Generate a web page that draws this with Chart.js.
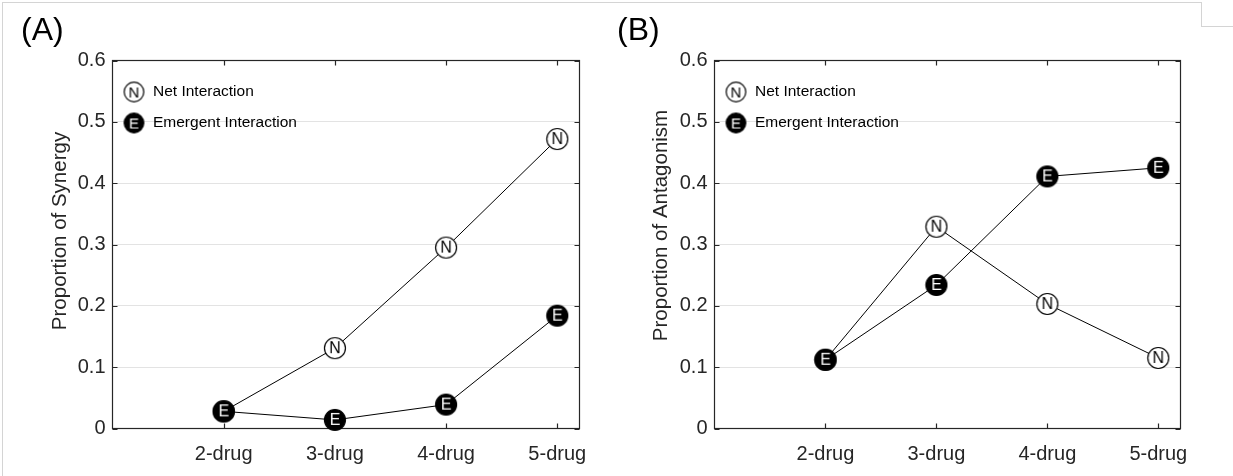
<!DOCTYPE html>
<html>
<head>
<meta charset="utf-8">
<script src="https://cdn.jsdelivr.net/npm/chart.js@4.4.1/dist/chart.umd.min.js"></script>
<style>
  html, body { margin: 0; padding: 0; background: #fff; }
  #wrap { position: relative; width: 1233px; height: 476px; overflow: hidden; }
  canvas { position: absolute; top: 0; }
  #cA { left: 0; }
  #cB { left: 600px; }
  .edge { position: absolute; background: #d4d4d4; }
</style>
</head>
<body>
<div id="wrap">
  <div class="edge" style="left:2px;top:2px;width:1200px;height:1px"></div>
  <div class="edge" style="left:2px;top:2px;width:1px;height:474px"></div>
  <div class="edge" style="left:1201px;top:2px;width:1px;height:25px"></div>
  <div class="edge" style="left:1201px;top:26px;width:32px;height:1px"></div>
  <canvas id="cA" width="600" height="476"></canvas>
  <canvas id="cB" width="633" height="476"></canvas>
</div>
<script>
// values
const drugCounts = ['2-drug', '3-drug', '4-drug', '5-drug'];
const drugPos = [2, 3, 4, 5];
const yTicks = [0, 0.1, 0.2, 0.3, 0.4, 0.5, 0.6];
const yTickLabels = ['0', '0.1', '0.2', '0.3', '0.4', '0.5', '0.6'];

const synergyNet = [0.028, 0.131, 0.295, 0.472];
const synergyEmergent = [0.028, 0.014, 0.039, 0.184];
const antagNet = [0.112, 0.329, 0.203, 0.115];
const antagEmergent = [0.112, 0.234, 0.411, 0.425];

const FONT = '"Liberation Sans", Arial, Helvetica, sans-serif';
const AXIS = '#262626';

// circle with a letter, used as point style
function marker(letter, filled, r, size) {
  const c = document.createElement('canvas');
  const s = Math.ceil(r * 2 + 3);
  c.width = c.height = s;
  const g = c.getContext('2d');
  g.beginPath();
  g.arc(s / 2, s / 2, r, 0, Math.PI * 2);
  g.fillStyle = filled ? '#000' : '#fff';
  g.fill();
  g.lineWidth = 1.2;
  g.strokeStyle = '#000';
  g.stroke();
  g.fillStyle = filled ? '#fff' : '#000';
  g.font = size + 'px ' + FONT;
  g.textAlign = 'center';
  g.textBaseline = 'middle';
  g.fillText(letter, s / 2, s / 2 + 1);
  return c;
}
const mN = marker('N', false, 10.5, 16);
const mE = marker('E', true, 10.5, 16);
const lN = marker('N', false, 9.8, 15);
const lE = marker('E', true, 9.8, 15);

// box with inward ticks, panel letter, y title and legend
const frame = {
  id: 'frame',
  beforeDatasetsDraw(chart, args, o) {
    const { ctx, chartArea: a, scales: { x, y } } = chart;
    ctx.save();
    ctx.strokeStyle = AXIS;
    ctx.lineWidth = 1.2;
    ctx.strokeRect(a.left, a.top, a.right - a.left, a.bottom - a.top);
    ctx.beginPath();
    x.ticks.forEach(t => {
      const px = Math.round(x.getPixelForValue(t.value)) + 0.5;
      ctx.moveTo(px, a.bottom); ctx.lineTo(px, a.bottom - 5);
      ctx.moveTo(px, a.top); ctx.lineTo(px, a.top + 5);
    });
    y.ticks.forEach(t => {
      const py = Math.round(y.getPixelForValue(t.value)) + 0.5;
      ctx.moveTo(a.left, py); ctx.lineTo(a.left + 5, py);
      ctx.moveTo(a.right, py); ctx.lineTo(a.right - 5, py);
    });
    ctx.stroke();
    ctx.restore();
  },
  afterDraw(chart, args, o) {
    const { ctx, chartArea: a } = chart;
    ctx.save();
    ctx.fillStyle = '#000';
    ctx.font = '32px ' + FONT;
    ctx.textBaseline = 'alphabetic';
    ctx.fillText(o.letter, o.letterX, 40);

    ctx.save();
    ctx.translate(o.titleX, o.titleY);
    ctx.rotate(-Math.PI / 2);
    ctx.fillStyle = AXIS;
    ctx.font = '20.5px ' + FONT;
    ctx.textAlign = 'center';
    ctx.fillText(o.title, 0, 0);
    ctx.restore();

    const lx = a.left + 21.5;
    ctx.drawImage(lN, lx - lN.width / 2, 92 - lN.height / 2);
    ctx.drawImage(lE, lx - lE.width / 2, 123 - lE.height / 2);
    ctx.fillStyle = '#000';
    ctx.font = '15.5px ' + FONT;
    ctx.textBaseline = 'middle';
    ctx.fillText('Net Interaction', a.left + 40.5, 92);
    ctx.fillText('Emergent Interaction', a.left + 40.5, 123);
    ctx.restore();
  }
};

function series(label, vals, style) {
  return {
    label,
    data: vals.map((v, i) => ({ x: drugPos[i], y: v })),
    borderColor: '#000',
    borderWidth: 1,
    tension: 0,
    pointStyle: style,
    pointRadius: 10.5,
    pointHoverRadius: 10.5,
    clip: false
  };
}

function drawPanel(id, net, emergent, p) {
  return new Chart(document.getElementById(id), {
    type: 'line',
    data: {
      datasets: [
        series('Emergent Interaction', emergent, mE),
        series('Net Interaction', net, mN)
      ]
    },
    options: {
      responsive: false,
      animation: false,
      events: [],
      layout: { padding: { left: 0, top: 60.5, right: p.right, bottom: 0 } },
      plugins: {
        legend: { display: false },
        tooltip: { enabled: false },
        frame: p
      },
      scales: {
        x: {
          type: 'linear',
          min: 1,
          max: 5.2,
          afterBuildTicks: s => { s.ticks = drugPos.map(v => ({ value: v })); },
          afterFit: s => { s.height = 47.5; },
          ticks: {
            callback: v => drugCounts[drugPos.indexOf(v)],
            font: { family: FONT, size: 20 },
            color: AXIS,
            padding: 6,
            maxRotation: 0,
            autoSkip: false
          },
          grid: { display: false },
          border: { display: false }
        },
        y: {
          min: 0,
          max: 0.6,
          afterBuildTicks: s => { s.ticks = yTicks.map(v => ({ value: v })); },
          afterFit: s => { s.width = p.left; },
          ticks: {
            callback: (v, i) => yTickLabels[i],
            font: { family: FONT, size: 20 },
            color: AXIS,
            padding: 7
          },
          grid: { color: '#e3e3e3', drawTicks: false, lineWidth: 1 },
          border: { display: false }
        }
      }
    },
    plugins: [frame]
  });
}

drawPanel('cA', synergyNet, synergyEmergent, {
  left: 112.5, right: 20.5, letter: '(A)', letterX: 21,
  title: 'Proportion of Synergy', titleX: 65.5, titleY: 231
});
drawPanel('cB', antagNet, antagEmergent, {
  left: 114.5, right: 52.5, letter: '(B)', letterX: 17,
  title: 'Proportion of Antagonism', titleX: 66.5, titleY: 225.5
});
</script>
</body>
</html>
